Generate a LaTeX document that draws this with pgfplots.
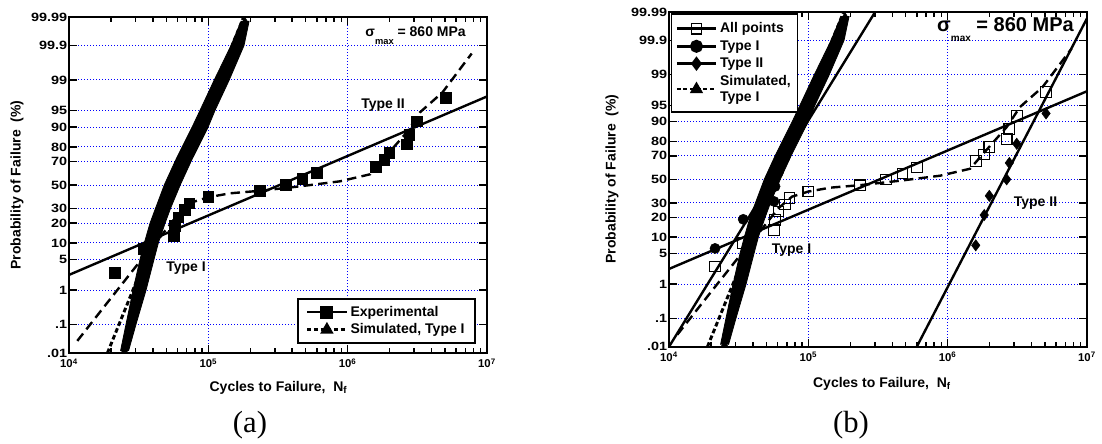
\documentclass[border=0pt]{standalone}
\usepackage{fontspec}
\setmainfont{Liberation Sans}
\newfontfamily\seriffont{Liberation Serif}
\usepackage{pgfplots}
\usepackage{pgfplotstable}
\pgfplotsset{compat=1.18}

% experimental lives (cycles) and probit of median rank (i-0.5)/19
\pgfplotstableread{
N z
21400 -1.938
34100 -1.412
56700 -1.119
57700 -0.899
61000 -0.716
68000 -0.555
73100 -0.407
100000 -0.267
235000 -0.132
361000 0
473000 0.132
600000 0.267
1590000 0.407
1830000 0.555
1990000 0.716
2650000 0.899
2770000 1.119
3130000 1.412
5080000 1.938
}\expdata

\pgfplotstableread{
N z
21400 -1.534
34100 -0.887
56700 -0.489
57700 -0.157
61000 0.157
68000 0.489
73100 0.887
100000 1.534
}\typeone

\pgfplotstableread{
N z
1590000 -1.465
1830000 -0.792
1990000 -0.366
2650000 0
2770000 0.366
3130000 0.792
5080000 1.465
}\typetwo

\pgfplotstableread{
N z
11470 -3.451
19050 -2.586
31810 -1.717
45020 -1.157
60610 -0.648
76380 -0.383
99540 -0.272
143200 -0.184
235000 -0.128
455200 -0.029
881800 0.082
1448000 0.237
2016000 0.746
2657000 1.166
3300000 1.608
4790000 2.050
7760000 2.910
}\mixture

% envelope of the simulated Type I points (left edge up, right edge down)
\pgfplotstableread{
N z
23430 -3.673
25660 -3.082
28810 -2.330
32340 -1.644
34830 -1.268
38140 -0.847
41790 -0.515
48500 0.015
58640 0.569
76380 1.277
87190 1.653
109900 2.316
145600 3.090
171700 3.622
196000 3.622
180400 3.090
140800 2.316
111700 1.653
99510 1.277
76380 0.569
63160 0.015
53550 -0.515
48900 -0.847
43900 -1.268
40760 -1.644
35700 -2.330
30270 -3.082
26740 -3.673
}\simband

\pgfplotstableread{
N z
25030 -3.673
27870 -3.082
32070 -2.330
36300 -1.644
39110 -1.268
43190 -0.847
47300 -0.515
55340 0.015
66920 0.569
87190 1.277
98690 1.653
124400 2.316
162000 3.090
183400 3.622
}\simpts

\begin{document}
\begin{tikzpicture}
\useasboundingbox (0,0) rectangle (826.5pt,332.25pt);

% ---------------- panel (a)
\begin{axis}[
    at={(51.75pt,67.5pt)}, anchor=south west,
    scale only axis, width=313.5pt, height=252pt,
    xmode=log, xmin=1e4, xmax=1e7,
    ymin=-3.719, ymax=3.719,
    xtick={1e4,1e5,1e6,1e7},
    xticklabels={10\textsuperscript{4},10\textsuperscript{5},10\textsuperscript{6},10\textsuperscript{7}},
    ytick={-3.719,-3.090,-2.326,-1.645,-1.282,-0.842,-0.524,0,0.524,0.842,1.282,1.645,2.326,3.090,3.719},
    yticklabels={.01,.1,1,5,10,20,30,50,70,80,90,95,99,99.9,99.99},
    tick align=inside, tick pos=both,
    major tick length=6pt, minor tick length=3.75pt,
    axis line style={line width=1.5pt},
    major tick style={black, line width=1.1pt},
    minor tick style={black, line width=1.1pt},
    xmajorgrids, ymajorgrids,
    major grid style={blue, dash pattern=on 0.9pt off 1.35pt, line width=0.75pt},
    yticklabel style={font=\fontsize{9}{10}\selectfont\bfseries, xscale=1.2, inner sep=1pt},
    xticklabel style={font=\fontsize{8.5}{10}\selectfont\bfseries, inner sep=2pt, yshift=-2pt},
    legend cell align=left,
    legend image code/.code={
      \draw[mark repeat=2,mark phase=2,#1] plot coordinates {(0cm,0cm) (0.52cm,0cm) (1.04cm,0cm)};
    },
    legend style={draw=black, line width=1.3pt, fill=white,
      font=\fontsize{10.5}{12}\selectfont\bfseries, inner xsep=6pt, inner ysep=3.5pt,
      row sep=0pt, at={(rel axis cs:0.974,0.027)}, anchor=south east},
  ]
\addlegendimage{black, line width=1.8pt, mark=square*, mark size=4pt, mark options={solid}}
\addlegendentry{Experimental}
\addlegendimage{black, line width=1.8pt, dash pattern=on 3pt off 2pt, mark=triangle*, mark size=4pt, mark options={solid}}
\addlegendentry{Simulated, Type I}
\addplot[fill=black, draw=black, line width=0.6pt, forget plot] table[x=N,y=z] {\simband};
\addplot[only marks, mark=triangle*, mark size=3pt, black, forget plot] table[x=N,y=z] {\simpts};
\addplot[black, line width=2.2pt, dash pattern=on 3.5pt off 2pt, forget plot] coordinates {(18870,-3.719) (179200,3.719)};
\addplot[black, line width=1.8pt, dash pattern=on 7pt off 4pt, forget plot] table[x=N,y=z] {\mixture};
\addplot[black, line width=1.8pt, forget plot] coordinates {(10000,-1.99) (10000000,1.96)};
\addplot[only marks, mark=square*, mark size=4pt, black, forget plot] table[x=N,y=z] {\expdata};
\end{axis}

% ---------------- panel (b)
\begin{axis}[
    at={(501.75pt,72.2pt)}, anchor=south west,
    scale only axis, width=313.5pt, height=251pt,
    xmode=log, xmin=1e4, xmax=1e7,
    ymin=-3.719, ymax=3.719,
    xtick={1e4,1e5,1e6,1e7},
    xticklabels={10\textsuperscript{4},10\textsuperscript{5},10\textsuperscript{6},10\textsuperscript{7}},
    ytick={-3.719,-3.090,-2.326,-1.645,-1.282,-0.842,-0.524,0,0.524,0.842,1.282,1.645,2.326,3.090,3.719},
    yticklabels={.01,.1,1,5,10,20,30,50,70,80,90,95,99,99.9,99.99},
    tick align=inside, tick pos=both,
    major tick length=6pt, minor tick length=3.75pt,
    axis line style={line width=1.5pt},
    major tick style={black, line width=1.1pt},
    minor tick style={black, line width=1.1pt},
    xmajorgrids, ymajorgrids,
    major grid style={blue, dash pattern=on 0.9pt off 1.35pt, line width=0.75pt},
    yticklabel style={font=\fontsize{9}{10}\selectfont\bfseries, xscale=1.2, inner sep=1pt},
    xticklabel style={font=\fontsize{8.5}{10}\selectfont\bfseries, inner sep=2pt, yshift=-2pt},
    legend cell align=left,
    legend image code/.code={
      \draw[mark repeat=2,mark phase=2,#1] plot coordinates {(0cm,0cm) (0.52cm,0cm) (1.04cm,0cm)};
    },
    legend style={draw=black, line width=1.3pt, fill=white,
      font=\fontsize{10.5}{12}\selectfont\bfseries, inner xsep=3pt, inner ysep=4.5pt,
      row sep=0.3pt, cells={align=left},
      at={(rel axis cs:0.004,0.997)}, anchor=north west},
  ]
\addlegendimage{black, line width=1.8pt, mark=square, mark size=4pt, mark options={solid, line width=0.8pt, fill=white}}
\addlegendentry{All points}
\addlegendimage{black, line width=1.8pt, mark=*, mark size=4pt, mark options={solid}}
\addlegendentry{Type I}
\addlegendimage{black, line width=1.8pt, mark=diamond*, mark size=4pt, mark options={solid}}
\addlegendentry{Type II}
\addlegendimage{black, line width=1.8pt, dash pattern=on 3pt off 2pt, mark=triangle*, mark size=4pt, mark options={solid}}
\addlegendentry{Simulated,\\Type I}
\addplot[fill=black, draw=black, line width=0.6pt, forget plot] table[x=N,y=z] {\simband};
\addplot[only marks, mark=triangle*, mark size=3pt, black, forget plot] table[x=N,y=z] {\simpts};
\addplot[black, line width=2.2pt, dash pattern=on 3.5pt off 2pt, forget plot] coordinates {(18870,-3.719) (179200,3.719)};
\addplot[black, line width=1.8pt, dash pattern=on 7pt off 4pt, forget plot] table[x=N,y=z] {\mixture};
\addplot[black, line width=1.8pt, forget plot] coordinates {(10000,-1.99) (10000000,1.96)};
\addplot[black, line width=1.8pt, forget plot] coordinates {(10000,-3.719) (301300,3.719)};
\addplot[black, line width=1.8pt, forget plot] coordinates {(600000,-3.719) (10000000,3.58)};
\addplot[only marks, mark=square, mark size=4pt, black, mark options={line width=0.8pt}, forget plot] table[x=N,y=z] {\expdata};
\addplot[only marks, mark=*, mark size=3.8pt, black, forget plot] table[x=N,y=z] {\typeone};
\addplot[only marks, mark=diamond*, mark size=4.2pt, black, forget plot] table[x=N,y=z] {\typetwo};
\end{axis}

% ---------------- texts (image pixel coordinates)
\begin{scope}[x=0.75pt, y=-0.75pt, yshift=332.25pt]
\tikzset{lab/.style={font=\fontsize{10.5}{12}\selectfont\bfseries, inner sep=0pt}}
% panel (a)
\node[lab, rotate=90] at (17,185) {Probability of Failure\ \ (\%)};
\node[lab, anchor=base] at (278.5,391.7) {Cycles to Failure,\ \ N\textsubscript{f}};
\node[lab, anchor=base east] at (466,36.7) {σ\raisebox{-1.1ex}{\fontsize{7}{8}\selectfont max} = 860 MPa};
\node[lab] at (383,105) {Type II};
\node[lab] at (186,268) {Type I};
\node[font=\seriffont\fontsize{23}{26}\selectfont, anchor=base] at (250,432) {(a)};
% panel (b)
\node[lab, rotate=90] at (612,179) {Probability of Failure\ \ (\%)};
\node[lab, anchor=base] at (882,387) {Cycles to Failure,\ \ N\textsubscript{f}};
\node[lab, font=\fontsize{15}{17}\selectfont\bfseries, anchor=base east] at (1074,31.7) {σ\raisebox{-0.9ex}{\fontsize{7.5}{8}\selectfont max}\ = 860 MPa};
\node[lab] at (1035.5,203) {Type II};
\node[lab] at (791.5,250.5) {Type I};
\node[font=\seriffont\fontsize{23}{26}\selectfont, anchor=base] at (851,432) {(b)};
\end{scope}
\end{tikzpicture}
\end{document}
